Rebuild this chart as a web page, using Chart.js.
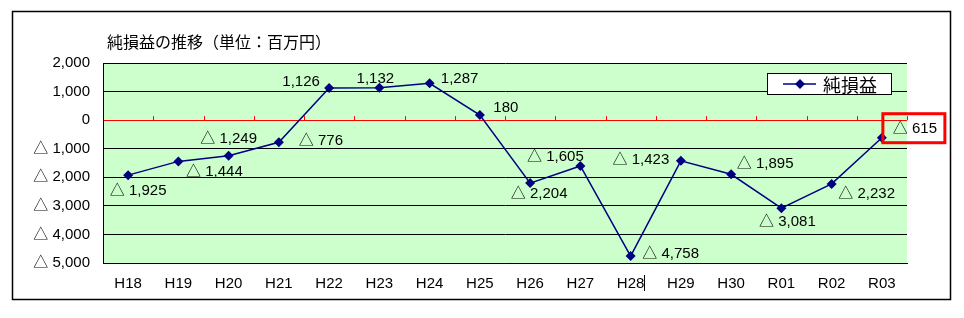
<!DOCTYPE html>
<html>
<head>
<meta charset="utf-8">
<script src="https://cdn.jsdelivr.net/npm/chart.js@4"></script>
<style>
  body { margin: 0; background: #fff; }
</style>
</head>
<body>
<canvas id="chart" width="964" height="318"></canvas>
<script>
// 年度
const categories = ['H18', 'H19', 'H20', 'H21', 'H22', 'H23', 'H24', 'H25', 'H26', 'H27', 'H28', 'H29', 'H30', 'R01', 'R02', 'R03'];
// 純損益（百万円）
const netIncome = [-1925, -1444, -1249, -776, 1126, 1132, 1287, 180, -2204, -1605, -4758, -1423, -1895, -3081, -2232, -615];
const seriesName = '純損益';
const chartTitle = '純損益の推移（単位：百万円）';
const yMin = -5000, yMax = 2000, yStep = 1000;

// ラベルの位置（点からのずれ）
const labelOffsets = [
  [10, 16], [36, 10], [0, -17], [42, -1], [-28, -6], [-4, -9], [30, -5], [26, -7],
  [9, 11], [-25, -9], [40, -2], [-40, -1], [34, -10], [6, 14], [35, 10], [33, -9]
];

const navy = '#000080';
const fmt = v => (v < 0 ? '△ ' : '') + Math.abs(v).toLocaleString('en-US');
const numFont = '15px "Liberation Sans", "Noto Sans CJK JP", sans-serif';

const decor = {
  id: 'decor',
  beforeDraw(chart) {
    const { ctx, chartArea: a } = chart;
    ctx.save();
    ctx.fillStyle = '#CCFFCC';
    ctx.fillRect(a.left, a.top, a.right - a.left, a.bottom - a.top);
    ctx.restore();
  },
  beforeDatasetsDraw(chart) {
    // ゼロ線上の目盛り
    const { ctx, chartArea: a, scales } = chart;
    const y0 = scales.y.getPixelForValue(0);
    const step = (a.right - a.left) / categories.length;
    ctx.save();
    ctx.strokeStyle = '#FF0000';
    ctx.lineWidth = 1;
    for (let i = 1; i <= categories.length; i++) {
      const x = Math.round(a.left + step * i) + 0.5;
      ctx.beginPath();
      ctx.moveTo(x, y0 - 4);
      ctx.lineTo(x, y0);
      ctx.stroke();
    }
    ctx.restore();
  },
  afterDatasetsDraw(chart) {
    const { ctx } = chart;
    const meta = chart.getDatasetMeta(0);
    ctx.save();
    ctx.font = numFont;
    ctx.fillStyle = '#000';
    ctx.textAlign = 'center';
    ctx.textBaseline = 'middle';
    meta.data.forEach((pt, i) => {
      const [dx, dy] = labelOffsets[i];
      const x = pt.x + dx, y = pt.y + dy;
      ctx.fillText(fmt(netIncome[i]), x, y);
      if (i === netIncome.length - 1) {
        // 強調枠
        ctx.strokeStyle = '#FF0000';
        ctx.lineWidth = 3;
        ctx.strokeRect(x - 32, y - 15, 62, 29);
      }
    });
    ctx.restore();
  },
  afterDraw(chart) {
    const { ctx } = chart;
    ctx.save();
    // 外枠
    ctx.strokeStyle = '#000';
    ctx.lineWidth = 1.5;
    ctx.strokeRect(12.5, 11.5, 938, 288);
    // タイトル
    ctx.fillStyle = '#000';
    ctx.font = '16px "Noto Sans CJK JP", sans-serif';
    ctx.textBaseline = 'middle';
    ctx.fillText(chartTitle, 107, 42);
    // 凡例
    ctx.fillStyle = '#fff';
    ctx.fillRect(767, 73, 124, 21);
    ctx.lineWidth = 1;
    ctx.strokeRect(767.5, 73.5, 124, 21);
    ctx.strokeStyle = navy;
    ctx.lineWidth = 1.5;
    ctx.beginPath();
    ctx.moveTo(783, 84);
    ctx.lineTo(816, 84);
    ctx.stroke();
    ctx.fillStyle = navy;
    ctx.beginPath();
    ctx.moveTo(800, 79); ctx.lineTo(805, 84); ctx.lineTo(800, 89); ctx.lineTo(795, 84);
    ctx.closePath();
    ctx.fill();
    ctx.fillStyle = '#000';
    ctx.font = '18px "Noto Sans CJK JP", sans-serif';
    ctx.fillText(seriesName, 823, 85);
    // H28 ラベル横の縦線
    ctx.strokeStyle = '#000';
    ctx.lineWidth = 1;
    ctx.beginPath();
    ctx.moveTo(644.5, 275);
    ctx.lineTo(644.5, 291);
    ctx.stroke();
    ctx.restore();
  }
};

new Chart(document.getElementById('chart'), {
  type: 'line',
  data: {
    labels: categories,
    datasets: [{
      label: seriesName,
      data: netIncome,
      borderColor: navy,
      backgroundColor: navy,
      borderWidth: 1.5,
      pointStyle: 'rectRot',
      pointRadius: 5,
      pointBorderWidth: 0,
      tension: 0,
      clip: false
    }]
  },
  options: {
    responsive: false,
    animation: false,
    layout: { padding: { left: 0, top: 63, right: 57, bottom: 0 } },
    plugins: { legend: { display: false }, tooltip: { enabled: false } },
    scales: {
      x: {
        offset: true,
        grid: { display: false, drawTicks: false },
        border: { display: true, color: '#000', width: 1 },
        ticks: { padding: 12, color: '#000', font: { size: 15, family: '"Liberation Sans", sans-serif' } },
        afterFit: s => { s.height = 55; }
      },
      y: {
        min: yMin,
        max: yMax,
        grid: {
          drawTicks: false,
          color: c => c.tick.value === 0 ? '#FF0000' : '#000',
          lineWidth: 1
        },
        border: { display: true, color: '#000', width: 1 },
        ticks: {
          stepSize: yStep,
          padding: 13,
          color: '#000',
          font: { size: 15, family: '"Liberation Sans", "Noto Sans CJK JP", sans-serif' },
          callback: v => fmt(v)
        },
        afterFit: s => { s.width = 103; }
      }
    }
  },
  plugins: [decor]
});
</script>
</body>
</html>
